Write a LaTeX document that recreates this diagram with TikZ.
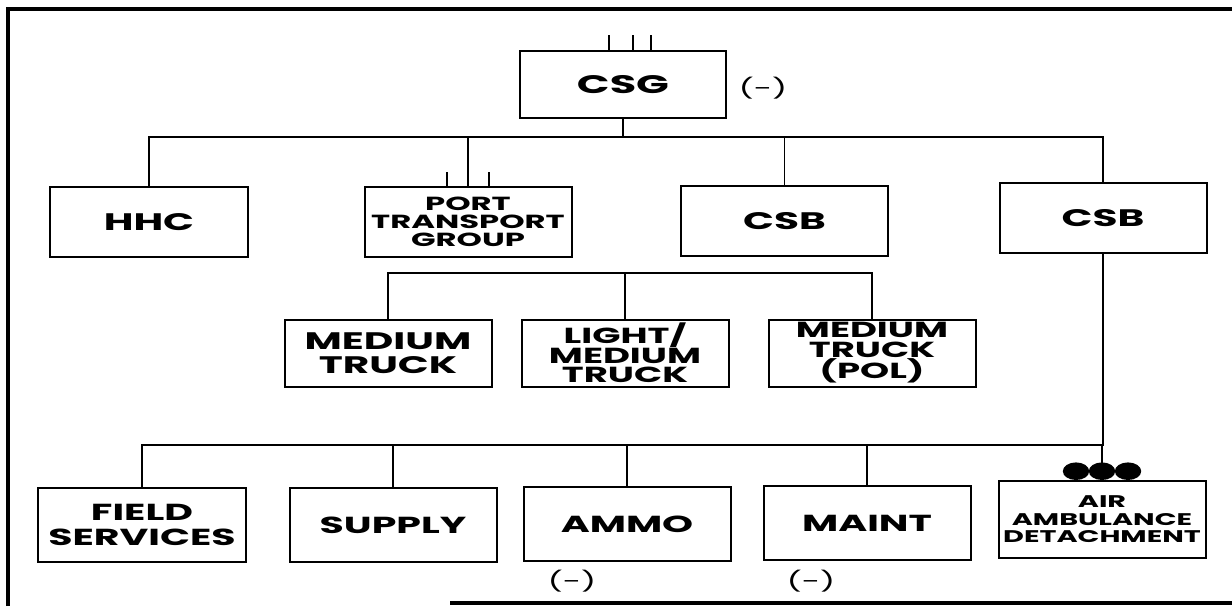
\documentclass[tikz,border=0pt]{standalone}
\usepackage{fontspec}
\newfontfamily\orgfont{Poppins}[FakeStretch=1.7]
\usetikzlibrary{calc}

\tikzset{
  unitbox/.style={draw=black, line width=0.5mm, minimum width=51.75mm, minimum height=17.5mm,
    align=center, inner sep=0pt, font=\orgfont\bfseries\fontsize{17}{16}\selectfont},
  truckbox/.style={unitbox, minimum height=16.75mm, font=\orgfont\bfseries\fontsize{17}{17}\selectfont},
  svcbox/.style={unitbox, minimum height=18.5mm, font=\orgfont\bfseries\fontsize{16.5}{17.5}\selectfont},
  reduced/.style={font=\orgfont\fontsize{14}{14}\selectfont, inner sep=0pt},
  link/.style={line width=0.4mm}
}

\begin{document}
\begin{tikzpicture}[x=0.25mm, y=-0.25mm]
\useasboundingbox (0,0) rectangle (1232,606);

%FRAME
\draw[line width=1mm] (8,606) -- (8,9) -- (1232,9);
\draw[line width=0.8mm] (450,603) -- (1232,603);

%GROUP
\node[unitbox, minimum width=51.5mm, minimum height=16.75mm, font=\orgfont\bfseries\fontsize{18}{18}\selectfont] (csg) at (623,84.5) {CSG};
\node[reduced] (csgred) at (763,88) {(-)};

%LEVEL 1
\node[unitbox, minimum width=49.5mm] (hhc) at (149,222) {HHC};
\node[unitbox, font=\orgfont\bfseries\fontsize{13.5}{12.8}\selectfont] (ptg) at (468,222) {PORT\\TRANSPORT\\GROUP};
\node[unitbox] (csbl) at (784.5,221) {CSB};
\node[unitbox] (csbr) at (1103,218) {CSB};

%LEVEL 2
\node[truckbox] (medtruck) at (388,353) {MEDIUM\\TRUCK};
\node[truckbox, font=\orgfont\bfseries\fontsize{15.5}{14}\selectfont] (lmtruck) at (625,353) {LIGHT/\\MEDIUM\\TRUCK};
\node[truckbox, font=\orgfont\bfseries\fontsize{15.5}{14}\selectfont] (poltruck) at (872,353) {MEDIUM\\TRUCK\\(POL)};

%LEVEL 3
\node[svcbox] (fieldsvc) at (142,525) {FIELD\\SERVICES};
\node[svcbox] (supply) at (393,525) {SUPPLY};
\node[svcbox] (ammo) at (627,524) {AMMO};
\node[svcbox] (maint) at (867,523) {MAINT};
\node[svcbox, minimum height=19.25mm, font=\orgfont\bfseries\fontsize{12}{12.5}\selectfont] (airamb) at (1102,519.5) {AIR\\AMBULANCE\\DETACHMENT};
\node[reduced] (ammored) at (572,581) {(-)};
\node[reduced] (maintred) at (811,581) {(-)};

%buses
\coordinate (topbus) at (0,137);
\coordinate (truckbus) at (0,273);
\coordinate (lowbus) at (0,445);

\draw[link] (csg.south) -- (csg.south |- topbus);
\draw[link] (hhc.north) |- (csbr.north |- topbus) -- (csbr.north);
\draw[link] (ptg.north) -- (ptg.north |- topbus);
\draw[link] (csbl.north) -- (csbl.north |- topbus);

\draw[link] (medtruck.north) |- (poltruck.north |- truckbus) -- (poltruck.north);
\draw[link] (lmtruck.north) -- (lmtruck.north |- truckbus);

\draw[link] (fieldsvc.north) |- (csbr.south |- lowbus) -- (csbr.south);
\draw[link] (airamb.north) -- (airamb.north |- lowbus);
\foreach \unit in {supply,ammo,maint}
  \draw[link] (\unit.north) -- (\unit.north |- lowbus);

%echelon marks
\foreach \dx in {-14,10,28}
  \draw[link] ([xshift=\dx*0.25mm]csg.north) -- ++(0,-15);
\foreach \dx in {-21,21}
  \draw[link] ([xshift=\dx*0.25mm]ptg.north) -- ++(0,-14);
\foreach \dx in {-26,0,26}
  \fill ([xshift=\dx*0.25mm, yshift=2.2mm]airamb.north) ellipse [x radius=3.3mm, y radius=2.2mm];

\end{tikzpicture}
\end{document}
